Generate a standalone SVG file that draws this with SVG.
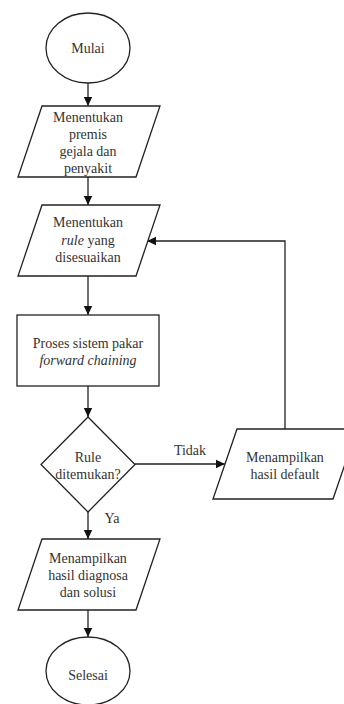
<svg xmlns="http://www.w3.org/2000/svg" width="344" height="704" viewBox="0 0 344 704" font-family="Liberation Serif, Times New Roman, DejaVu Serif, serif">
<style>
.s{fill:#fff;stroke:#222;stroke-width:1.3}
.t{font-family:'Liberation Serif','Times New Roman','DejaVu Serif',serif;font-size:14px;fill:#333;text-anchor:middle}
.i{font-style:italic}
.c{fill:none;stroke:#222;stroke-width:1.3}
</style>
<defs>
<marker id="a" markerUnits="userSpaceOnUse" markerWidth="10" markerHeight="10" refX="9" refY="5" orient="auto">
<path d="M0,0.8 L9,5 L0,9.2 z" fill="#111"/>
</marker>
</defs>
<rect width="344" height="704" fill="#fff"/>
<g id="connectors">
<line class="c" x1="88" y1="83" x2="88" y2="106" marker-end="url(#a)"/>
<line class="c" x1="88" y1="177" x2="88" y2="205" marker-end="url(#a)"/>
<line class="c" x1="88" y1="276" x2="88" y2="315" marker-end="url(#a)"/>
<line class="c" x1="88" y1="386" x2="88" y2="417" marker-end="url(#a)"/>
<line class="c" x1="135" y1="464" x2="225" y2="464" marker-end="url(#a)"/>
<polyline class="c" points="285,429 285,241 147,241" marker-end="url(#a)"/>
<line class="c" x1="88" y1="512" x2="88" y2="539" marker-end="url(#a)"/>
<line class="c" x1="88" y1="610" x2="88" y2="637" marker-end="url(#a)"/>
<text class="t" x="190" y="455">Tidak</text>
<text class="t" x="112" y="523">Ya</text>
</g>
<g id="mulai">
<ellipse class="s" cx="88" cy="48" rx="42" ry="35"/>
<text class="t" x="88" y="53">Mulai</text>
</g>
<g id="premis">
<polygon class="s" points="42,106 160,106 136,177 18,177"/>
<text class="t" x="88" y="122">Menentukan</text>
<text class="t" x="88" y="139">premis</text>
<text class="t" x="88" y="156">gejala dan</text>
<text class="t" x="88" y="173">penyakit</text>
</g>
<g id="rule">
<polygon class="s" points="42,205 160,205 136,276 18,276"/>
<text class="t" x="88" y="227">Menentukan</text>
<text class="t" x="88" y="245"><tspan class="i">rule</tspan> yang</text>
<text class="t" x="88" y="262">disesuaikan</text>
</g>
<g id="proses">
<rect class="s" x="17" y="315" width="142" height="71"/>
<text class="t" x="88" y="348">Proses sistem pakar</text>
<text class="t i" x="88" y="365">forward chaining</text>
</g>
<g id="keputusan">
<polygon class="s" points="88,417 135,464.5 88,512 41,464.5"/>
<text class="t" x="88" y="462">Rule</text>
<text class="t" x="88" y="479">ditemukan?</text>
</g>
<g id="default">
<polygon class="s" points="237,429 357,429 333,499 213,499"/>
<text class="t" x="285" y="462">Menampilkan</text>
<text class="t" x="285" y="479">hasil default</text>
</g>
<g id="hasil">
<polygon class="s" points="42,539 160,539 136,610 18,610"/>
<text class="t" x="88" y="563">Menampilkan</text>
<text class="t" x="88" y="580">hasil diagnosa</text>
<text class="t" x="88" y="597">dan solusi</text>
</g>
<g id="selesai">
<ellipse class="s" cx="88" cy="671" rx="42" ry="34"/>
<text class="t" x="88" y="680">Selesai</text>
</g>
</svg>
